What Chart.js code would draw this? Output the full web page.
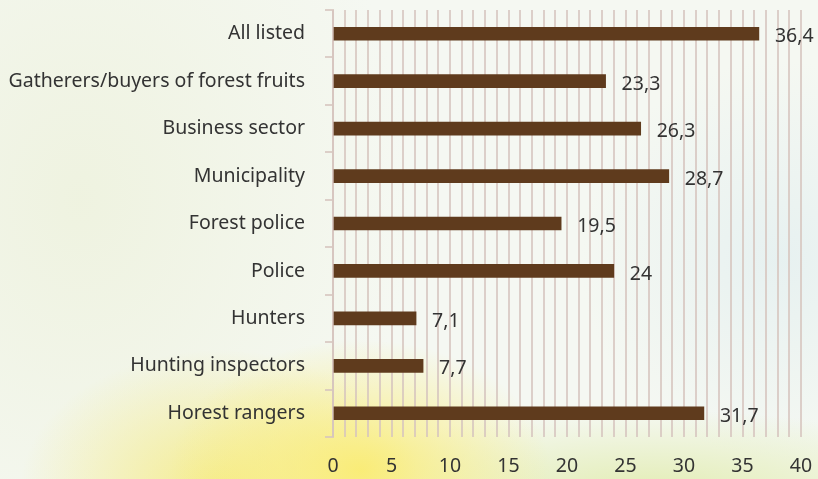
<!DOCTYPE html>
<html>
<head>
<meta charset="utf-8">
<script src="https://cdn.jsdelivr.net/npm/chart.js@4"></script>
<style>
  html, body { margin: 0; padding: 0; }
  body {
    width: 818px; height: 479px; overflow: hidden;
    background:
      radial-gradient(ellipse 190px 130px at 360px 470px, rgba(250,236,115,0.95), rgba(250,236,115,0) 100%),
      radial-gradient(ellipse 200px 140px at 220px 490px, rgba(245,235,130,0.9), rgba(245,235,130,0) 100%),
      radial-gradient(ellipse 340px 80px at 650px 490px, rgba(225,236,175,0.9), rgba(225,236,175,0) 100%),
      radial-gradient(ellipse 200px 200px at 780px 260px, rgba(225,238,240,0.7), rgba(225,238,240,0) 100%),
      radial-gradient(ellipse 330px 420px at 80px 200px, rgba(238,242,222,0.9), rgba(238,242,222,0) 100%),
      #f5f8f2;
  }
  #wrap { position: relative; width: 818px; height: 479px; }
</style>
</head>
<body>
<div id="wrap"><canvas id="myChart"></canvas></div>
<script>
// Kategorien und Werte (von oben nach unten)
const categories = ["All listed", "Gatherers/buyers of forest fruits", "Business sector", "Municipality",
    "Forest police", "Police", "Hunters", "Hunting inspectors", "Horest rangers"];
const values = [36.4, 23.3, 26.3, 28.7, 19.5, 24, 7.1, 7.7, 31.7];
const xTicks = [0, 5, 10, 15, 20, 25, 30, 35, 40];

const gridColor = "rgba(214,196,190,0.8)";
const textColor = "#333333";
const fontSize = 19.5;

// Werte rechts neben den Balken schreiben (mit Komma)
const valueLabels = {
    id: "valueLabels",
    afterDatasetsDraw(chart) {
        const ctx = chart.ctx;
        const meta = chart.getDatasetMeta(0);
        ctx.save();
        ctx.font = fontSize + "px 'Noto Sans'";
        ctx.fillStyle = textColor;
        ctx.textBaseline = "middle";
        ctx.textAlign = "left";
        meta.data.forEach((bar, i) => {
            ctx.fillText(String(values[i]).replace(".", ","), bar.x + 16, bar.y + 3);
        });
        ctx.restore();
    }
};

const ctx = document.getElementById("myChart").getContext("2d");

new Chart(ctx, {
    type: "bar",
    data: {
        labels: categories,
        datasets: [
            {
                data: values,
                backgroundColor: "#5f3b1d",
                barThickness: 13
            }
        ]
    },
    options: {
        indexAxis: "y",
        responsive: true,
        maintainAspectRatio: false,
        animation: false,
        layout: { padding: { top: 10, right: 17, left: 0, bottom: 0 } },
        scales: {
            x: {
                min: 0,
                max: 40,
                afterBuildTicks: s => {
                    s.ticks = [];
                    for (let v = 0; v <= 40; v++) s.ticks.push({ value: v });
                },
                afterFit: s => { s.height = 42; s.paddingLeft = 0; s.paddingRight = 0; },
                ticks: {
                    autoSkip: false,
                    maxRotation: 0,
                    padding: 18,
                    color: textColor,
                    font: { family: "Noto Sans", size: fontSize },
                    callback: v => (xTicks.includes(v) ? v : "")
                },
                grid: { color: gridColor, lineWidth: 2, drawTicks: false },
                border: { display: false }
            },
            y: {
                afterFit: s => { s.width = 333; s.paddingTop = 0; s.paddingBottom = 0; },
                ticks: {
                    padding: 20,
                    color: textColor,
                    font: { family: "Noto Sans", size: fontSize }
                },
                grid: { color: gridColor, lineWidth: 2, drawOnChartArea: false, tickLength: 8 },
                border: { display: true, color: gridColor, width: 2 }
            }
        },
        plugins: {
            legend: { display: false },
            tooltip: { enabled: false }
        }
    },
    plugins: [valueLabels]
});
</script>
</body>
</html>
